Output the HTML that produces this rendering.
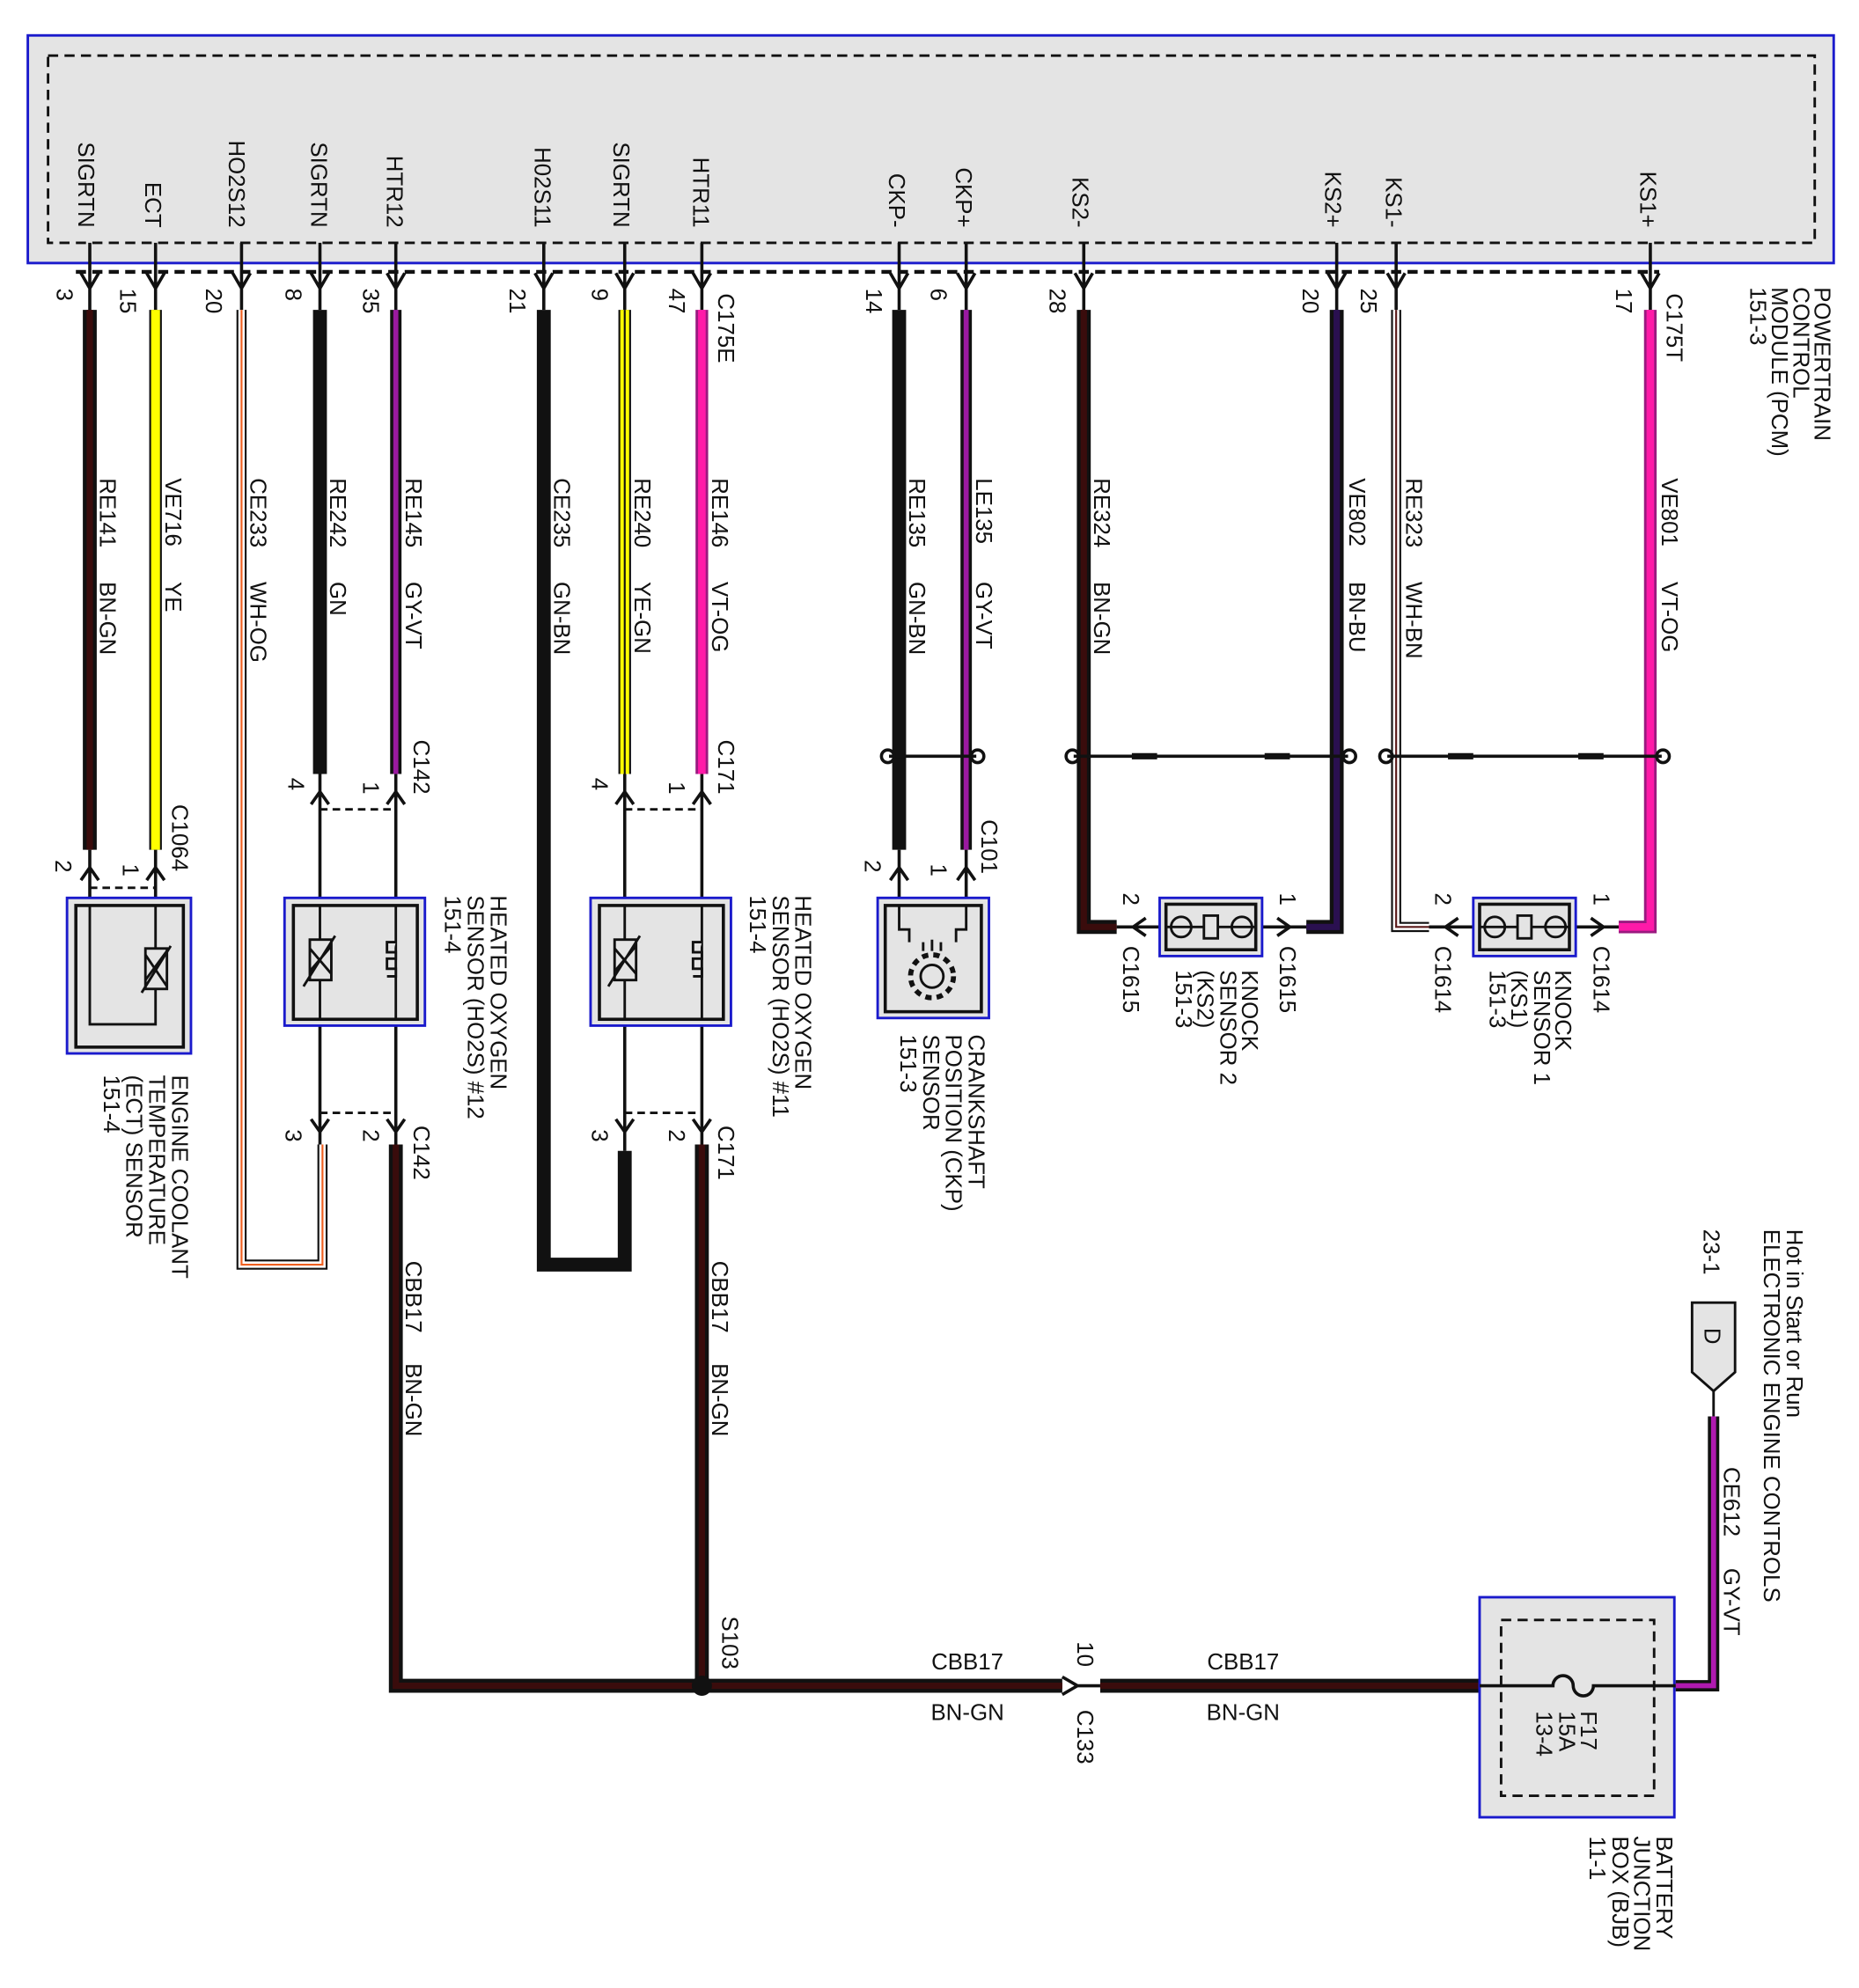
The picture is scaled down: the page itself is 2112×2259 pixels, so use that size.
<!DOCTYPE html>
<html><head><meta charset="utf-8"><style>
html,body{margin:0;padding:0;background:#fff}
svg{display:block}
text{font-family:"Liberation Sans",Arial,sans-serif;font-size:18px;fill:#111}
</style></head><body>
<svg width="2112" height="2259" viewBox="0 0 1470 1572" preserveAspectRatio="none" xmlns="http://www.w3.org/2000/svg">
<!-- PCM -->
<rect x="22" y="28" width="1428" height="180" fill="#e4e4e4" stroke="#1a1acc" stroke-width="2"/>
<rect x="38" y="44" width="1397" height="148" fill="none" stroke="#111" stroke-width="2" stroke-dasharray="8,5"/>
<line x1="60" y1="215" x2="1312" y2="215" stroke="#111" stroke-width="3" stroke-dasharray="8,5"/>
<g text-anchor="end">
<text transform="translate(62,180) rotate(90)">SIGRTN</text>
<text transform="translate(115,180) rotate(90)">ECT</text>
<text transform="translate(181,180) rotate(90)">HO2S12</text>
<text transform="translate(246,180) rotate(90)">SIGRTN</text>
<text transform="translate(306,180) rotate(90)">HTR12</text>
<text transform="translate(423,180) rotate(90)">H02S11</text>
<text transform="translate(485,180) rotate(90)">SIGRTN</text>
<text transform="translate(548,180) rotate(90)">HTR11</text>
<text transform="translate(703,180) rotate(90)">CKP-</text>
<text transform="translate(756,180) rotate(90)">CKP+</text>
<text transform="translate(848,180) rotate(90)">KS2-</text>
<text transform="translate(1048,180) rotate(90)">KS2+</text>
<text transform="translate(1096,180) rotate(90)">KS1-</text>
<text transform="translate(1297,180) rotate(90)">KS1+</text>
</g>
<g stroke="#111" stroke-width="2.5" fill="none">
<path d="M71,192V245M64,216L71,228L78,216"/>
<path d="M123,192V245M116,216L123,228L130,216"/>
<path d="M191,192V245M184,216L191,228L198,216"/>
<path d="M253,192V245M246,216L253,228L260,216"/>
<path d="M313,192V245M306,216L313,228L320,216"/>
<path d="M430,192V245M423,216L430,228L437,216"/>
<path d="M494,192V245M487,216L494,228L501,216"/>
<path d="M555,192V245M548,216L555,228L562,216"/>
<path d="M711,192V245M704,216L711,228L718,216"/>
<path d="M764,192V245M757,216L764,228L771,216"/>
<path d="M857,192V245M850,216L857,228L864,216"/>
<path d="M1057,192V245M1050,216L1057,228L1064,216"/>
<path d="M1104,192V245M1097,216L1104,228L1111,216"/>
<path d="M1305,192V245M1298,216L1305,228L1312,216"/>
</g>
<g>
<text transform="translate(45,228) rotate(90)">3</text>
<text transform="translate(95,228) rotate(90)">15</text>
<text transform="translate(163,228) rotate(90)">20</text>
<text transform="translate(226,228) rotate(90)">8</text>
<text transform="translate(287,228) rotate(90)">35</text>
<text transform="translate(403,228) rotate(90)">21</text>
<text transform="translate(468,228) rotate(90)">9</text>
<text transform="translate(529,228) rotate(90)">47</text>
<text transform="translate(685,228) rotate(90)">14</text>
<text transform="translate(736,228) rotate(90)">6</text>
<text transform="translate(830,228) rotate(90)">28</text>
<text transform="translate(1030,228) rotate(90)">20</text>
<text transform="translate(1076,228) rotate(90)">25</text>
<text transform="translate(1278,228) rotate(90)">17</text>
<text transform="translate(568,232) rotate(90)">C175E</text>
<text transform="translate(1318,232) rotate(90)">C175T</text>
<text transform="translate(1435,227) rotate(90)">POWERTRAIN</text>
<text transform="translate(1418,227) rotate(90)">CONTROL</text>
<text transform="translate(1401,227) rotate(90)">MODULE (PCM)</text>
<text transform="translate(1384,227) rotate(90)">151-3</text>
</g>
<g fill="none" stroke-linejoin="miter">
<g stroke="#111" stroke-width="11">
<path d="M71,245V672"/><path d="M253,245V612"/><path d="M430,245V1000H494V910"/><path d="M711,245V672"/>
<path d="M857,245V733H883"/><path d="M1057,245V733H1033"/>
<path d="M313,905V1333H555"/><path d="M555,905V1333"/><path d="M560,1333H840"/><path d="M870,1333H1170"/>
</g>
<g stroke="#3a0c0c" stroke-width="5">
<path d="M71,245V672"/><path d="M857,245V733H883"/>
<path d="M313,905V1333H555"/><path d="M555,905V1333"/><path d="M560,1333H840"/><path d="M870,1333H1170"/>
</g>
<g stroke="#2a1050" stroke-width="5"><path d="M1057,245V733H1033"/></g>
<path d="M123,245V672" stroke="#111" stroke-width="10"/>
<path d="M123,245V672" stroke="#ffff00" stroke-width="7"/>
<path d="M494,245V612" stroke="#111" stroke-width="10"/>
<path d="M494,245V612" stroke="#ffff00" stroke-width="7"/>
<path d="M494,245V612" stroke="#111" stroke-width="1.5"/>
<path d="M313,245V612" stroke="#111" stroke-width="9"/>
<path d="M313,245V612" stroke="#9a1aa0" stroke-width="4"/>
<path d="M764,245V672" stroke="#111" stroke-width="9"/>
<path d="M764,245V672" stroke="#9a1aa0" stroke-width="4"/>
<path d="M1355,1120V1333H1325" stroke="#111" stroke-width="9"/>
<path d="M1355,1120V1333H1325" stroke="#b01ab0" stroke-width="4"/>
<path d="M555,245V612" stroke="#9a1a80" stroke-width="10"/>
<path d="M555,245V612" stroke="#ff1aa8" stroke-width="6"/>
<path d="M1305,245V733H1280" stroke="#9a1a80" stroke-width="10"/>
<path d="M1305,245V733H1280" stroke="#ff1aa8" stroke-width="6"/>
<path d="M191,245V1000H255V905" stroke="#111" stroke-width="8"/>
<path d="M191,245V1000H255V905" stroke="#fff" stroke-width="5"/>
<path d="M191,245V1000H255V905" stroke="#f06020" stroke-width="1.5"/>
<path d="M1104,245V733H1130" stroke="#111" stroke-width="8"/>
<path d="M1104,245V733H1130" stroke="#fff" stroke-width="5"/>
<path d="M1104,245V733H1130" stroke="#5a1a1a" stroke-width="1.5"/>
</g>
<g>
<text transform="translate(79,378) rotate(90)">RE141</text><text transform="translate(79,460) rotate(90)">BN-GN</text>
<text transform="translate(131,378) rotate(90)">VE716</text><text transform="translate(131,460) rotate(90)">YE</text>
<text transform="translate(198,378) rotate(90)">CE233</text><text transform="translate(198,460) rotate(90)">WH-OG</text>
<text transform="translate(261,378) rotate(90)">RE242</text><text transform="translate(261,460) rotate(90)">GN</text>
<text transform="translate(321,378) rotate(90)">RE145</text><text transform="translate(321,460) rotate(90)">GY-VT</text>
<text transform="translate(438,378) rotate(90)">CE235</text><text transform="translate(438,460) rotate(90)">GN-BN</text>
<text transform="translate(502,378) rotate(90)">RE240</text><text transform="translate(502,460) rotate(90)">YE-GN</text>
<text transform="translate(563,378) rotate(90)">RE146</text><text transform="translate(563,460) rotate(90)">VT-OG</text>
<text transform="translate(719,378) rotate(90)">RE135</text><text transform="translate(719,460) rotate(90)">GN-BN</text>
<text transform="translate(772,378) rotate(90)">LE135</text><text transform="translate(772,460) rotate(90)">GY-VT</text>
<text transform="translate(865,378) rotate(90)">RE324</text><text transform="translate(865,460) rotate(90)">BN-GN</text>
<text transform="translate(1067,378) rotate(90)">VE802</text><text transform="translate(1067,460) rotate(90)">BN-BU</text>
<text transform="translate(1112,378) rotate(90)">RE323</text><text transform="translate(1112,460) rotate(90)">WH-BN</text>
<text transform="translate(1314,378) rotate(90)">VE801</text><text transform="translate(1314,460) rotate(90)">VT-OG</text>
<text transform="translate(321,997) rotate(90)">CBB17</text><text transform="translate(321,1078) rotate(90)">BN-GN</text>
<text transform="translate(563,997) rotate(90)">CBB17</text><text transform="translate(563,1078) rotate(90)">BN-GN</text>
<text transform="translate(1363,1160) rotate(90)">CE612</text><text transform="translate(1363,1240) rotate(90)">GY-VT</text>
</g>
<g stroke="#111" stroke-width="2.5" fill="none">
<line x1="703" y1="598" x2="772" y2="598"/><circle cx="702" cy="598" r="5"/><circle cx="773" cy="598" r="5"/>
<line x1="849" y1="598" x2="1066" y2="598"/><circle cx="848" cy="598" r="5"/><circle cx="1067" cy="598" r="5"/>
<line x1="1097" y1="598" x2="1314" y2="598"/><circle cx="1096" cy="598" r="5"/><circle cx="1315" cy="598" r="5"/>
</g>
<g stroke="#111" stroke-width="5"><line x1="895" y1="598" x2="915" y2="598"/><line x1="1000" y1="598" x2="1020" y2="598"/><line x1="1145" y1="598" x2="1165" y2="598"/><line x1="1248" y1="598" x2="1268" y2="598"/></g>
<g stroke="#111" stroke-width="2.5" fill="none">
<path d="M253,612V710M246,636L253,626L260,636"/>
<path d="M313,612V710M306,636L313,626L320,636"/>
<path d="M494,612V710M487,636L494,626L501,636"/>
<path d="M555,612V710M548,636L555,626L562,636"/>
<path d="M71,672V810H123V672M64,696L71,686L78,696M116,696L123,686L130,696"/>
<path d="M711,672V715M704,696L711,686L718,696"/>
<path d="M764,672V715M757,696L764,686L771,696"/>
<path d="M253,806V905M246,885L253,895L260,885"/>
<path d="M313,806V905M306,885L313,895L320,885"/>
<path d="M494,806V910M487,885L494,895L501,885"/>
<path d="M555,806V905M548,885L555,895L562,885"/>
<path d="M883,733H1033M906,726L896,733L906,740M1010,726L1020,733L1010,740"/>
<path d="M1130,733H1280M1153,726L1143,733L1153,740M1258,726L1268,733L1258,740"/>
<path d="M840,1326L852,1333L840,1340M852,1333H870"/>
</g>
<g stroke="#111" stroke-width="2" stroke-dasharray="6,4" fill="none">
<line x1="253" y1="640" x2="313" y2="640"/><line x1="494" y1="640" x2="555" y2="640"/>
<line x1="71" y1="702" x2="123" y2="702"/>
<line x1="253" y1="880" x2="313" y2="880"/><line x1="494" y1="880" x2="555" y2="880"/>
</g>
<g>
<rect x="53" y="710" width="98" height="123" fill="#e4e4e4" stroke="#1a1acc" stroke-width="2"/>
<rect x="60" y="716" width="85" height="112" fill="#e4e4e4" stroke="#111" stroke-width="2.5"/>
<rect x="225" y="710" width="111" height="101" fill="#e4e4e4" stroke="#1a1acc" stroke-width="2"/>
<rect x="232" y="716" width="98" height="90" fill="#e4e4e4" stroke="#111" stroke-width="2.5"/>
<rect x="467" y="710" width="111" height="101" fill="#e4e4e4" stroke="#1a1acc" stroke-width="2"/>
<rect x="474" y="716" width="98" height="90" fill="#e4e4e4" stroke="#111" stroke-width="2.5"/>
<rect x="694" y="710" width="88" height="95" fill="#e4e4e4" stroke="#1a1acc" stroke-width="2"/>
<rect x="700" y="716" width="76" height="84" fill="#e4e4e4" stroke="#111" stroke-width="2.5"/>
<rect x="917" y="710" width="81" height="46" fill="#e4e4e4" stroke="#1a1acc" stroke-width="2"/>
<rect x="922" y="715" width="71" height="36" fill="#e4e4e4" stroke="#111" stroke-width="2.5"/>
<rect x="1165" y="710" width="81" height="46" fill="#e4e4e4" stroke="#1a1acc" stroke-width="2"/>
<rect x="1170" y="715" width="71" height="36" fill="#e4e4e4" stroke="#111" stroke-width="2.5"/>
</g>
<g stroke="#111" stroke-width="2" fill="none">
<path d="M71,716V810H123V716"/>
<path d="M253,716V806M313,716V806M494,716V806M555,716V806"/>
<rect x="115" y="750" width="17" height="32" fill="#e4e4e4"/><path d="M112,785L135,748M115,755L132,780M115,775L132,752"/>
<rect x="245" y="743" width="17" height="32" fill="#e4e4e4"/><path d="M240,780L265,740M245,750L262,770M245,768L262,748"/>
<rect x="486" y="743" width="17" height="32" fill="#e4e4e4"/><path d="M481,780L506,740M486,750L503,770M486,768L503,748"/>
<path d="M313,745H306V753H313V758H306V766H313V772H306M555,745H548V753H555V758H548V766H555V772H548" fill="#e4e4e4"/>
<path d="M711,716V735H719V745M764,716V735H756V745"/>
<circle cx="737" cy="772" r="9"/><circle cx="737" cy="772" r="17" stroke-dasharray="5,4" stroke-width="4"/>
<path d="M730,745V752M737,743V752M744,745V752"/>
<path d="M922,733H993"/>
<circle cx="934" cy="733" r="8"/><circle cx="982" cy="733" r="8"/><rect x="952" y="724" width="11" height="18" fill="#e4e4e4"/>
<path d="M1170,733H1241"/>
<circle cx="1182" cy="733" r="8"/><circle cx="1230" cy="733" r="8"/><rect x="1200" y="724" width="11" height="18" fill="#e4e4e4"/>
</g>
<rect x="1170" y="1263" width="154" height="174" fill="#e4e4e4" stroke="#1a1acc" stroke-width="2"/>
<rect x="1187" y="1281" width="121" height="139" fill="none" stroke="#111" stroke-width="2" stroke-dasharray="8,5"/>
<path d="M1170,1333H1228A8,8 0 0 1 1244,1333A8,8 0 0 0 1260,1333H1325" stroke="#111" stroke-width="2.5" fill="none"/>
<path d="M1338,1030H1372V1085L1355,1100L1338,1085Z" fill="#e4e4e4" stroke="#111" stroke-width="2"/>
<line x1="1355" y1="1100" x2="1355" y2="1120" stroke="#111" stroke-width="2"/>
<circle cx="555" cy="1333" r="8" fill="#111"/>
<g>
<text transform="translate(327,585) rotate(90)">C142</text>
<text transform="translate(568,585) rotate(90)">C171</text>
<text transform="translate(228,615) rotate(90)">4</text>
<text transform="translate(287,618) rotate(90)">1</text>
<text transform="translate(468,615) rotate(90)">4</text>
<text transform="translate(529,618) rotate(90)">1</text>
<text transform="translate(136,636) rotate(90)">C1064</text>
<text transform="translate(44,680) rotate(90)">2</text>
<text transform="translate(97,683) rotate(90)">1</text>
<text transform="translate(776,648) rotate(90)">C101</text>
<text transform="translate(684,680) rotate(90)">2</text>
<text transform="translate(736,683) rotate(90)">1</text>
<text transform="translate(888,706) rotate(90)">2</text>
<text transform="translate(1012,706) rotate(90)">1</text>
<text transform="translate(888,748) rotate(90)">C1615</text>
<text transform="translate(1012,748) rotate(90)">C1615</text>
<text transform="translate(982,767) rotate(90)">KNOCK</text>
<text transform="translate(965,767) rotate(90)">SENSOR 2</text>
<text transform="translate(947,767) rotate(90)">(KS2)</text>
<text transform="translate(930,767) rotate(90)">151-3</text>
<text transform="translate(1135,706) rotate(90)">2</text>
<text transform="translate(1260,706) rotate(90)">1</text>
<text transform="translate(1135,748) rotate(90)">C1614</text>
<text transform="translate(1260,748) rotate(90)">C1614</text>
<text transform="translate(1230,767) rotate(90)">KNOCK</text>
<text transform="translate(1213,767) rotate(90)">SENSOR 1</text>
<text transform="translate(1195,767) rotate(90)">(KS1)</text>
<text transform="translate(1178,767) rotate(90)">151-3</text>
<text transform="translate(388,708) rotate(90)">HEATED OXYGEN</text>
<text transform="translate(370,708) rotate(90)">SENSOR (HO2S) #12</text>
<text transform="translate(352,708) rotate(90)">151-4</text>
<text transform="translate(629,708) rotate(90)">HEATED OXYGEN</text>
<text transform="translate(611,708) rotate(90)">SENSOR (HO2S) #11</text>
<text transform="translate(593,708) rotate(90)">151-4</text>
<text transform="translate(766,818) rotate(90)">CRANKSHAFT</text>
<text transform="translate(748,818) rotate(90)">POSITION (CKP)</text>
<text transform="translate(730,818) rotate(90)">SENSOR</text>
<text transform="translate(712,818) rotate(90)">151-3</text>
<text transform="translate(136,850) rotate(90)">ENGINE COOLANT</text>
<text transform="translate(118,850) rotate(90)">TEMPERATURE</text>
<text transform="translate(100,850) rotate(90)">(ECT) SENSOR</text>
<text transform="translate(82,850) rotate(90)">151-4</text>
<text transform="translate(226,893) rotate(90)">3</text>
<text transform="translate(287,893) rotate(90)">2</text>
<text transform="translate(327,890) rotate(90)">C142</text>
<text transform="translate(468,893) rotate(90)">3</text>
<text transform="translate(529,893) rotate(90)">2</text>
<text transform="translate(568,890) rotate(90)">C171</text>
<text transform="translate(571,1278) rotate(90)">S103</text>
<text transform="translate(852,1298) rotate(90)">10</text>
<text transform="translate(852,1352) rotate(90)">C133</text>
<text transform="translate(1347,972) rotate(90)">23-1</text>
<text transform="translate(1413,972) rotate(90)">Hot in Start or Run</text>
<text transform="translate(1395,972) rotate(90)">ELECTRONIC ENGINE CONTROLS</text>
<text transform="translate(1348,1050) rotate(90)">D</text>
<text transform="translate(1250,1353) rotate(90)">F17</text>
<text transform="translate(1233,1353) rotate(90)">15A</text>
<text transform="translate(1215,1353) rotate(90)">13-4</text>
<text transform="translate(1310,1452) rotate(90)">BATTERY</text>
<text transform="translate(1292,1452) rotate(90)">JUNCTION</text>
<text transform="translate(1275,1452) rotate(90)">BOX (BJB)</text>
<text transform="translate(1257,1452) rotate(90)">11-1</text>
</g>
<g text-anchor="middle">
<text x="765" y="1320">CBB17</text>
<text x="765" y="1360">BN-GN</text>
<text x="983" y="1320">CBB17</text>
<text x="983" y="1360">BN-GN</text>
</g>
</svg>
</body></html>
